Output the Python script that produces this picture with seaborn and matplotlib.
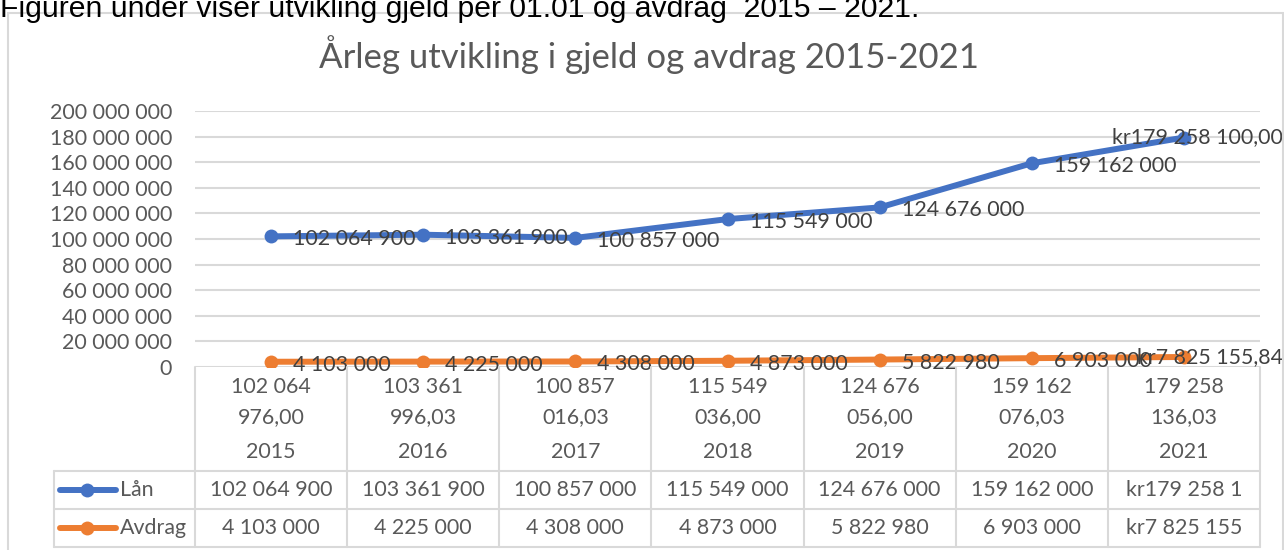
import matplotlib
matplotlib.use("Agg")
import matplotlib.pyplot as plt
import matplotlib.transforms as mtransforms
from matplotlib.patches import Rectangle
from matplotlib.lines import Line2D
import seaborn as sns
import pandas as pd

# ---------------- data ----------------
years = ["2015", "2016", "2017", "2018", "2019", "2020", "2021"]
cat_line1 = ["102 064", "103 361", "100 857", "115 549", "124 676", "159 162", "179 258"]
cat_line2 = ["976,00", "996,03", "016,03", "036,00", "056,00", "076,03", "136,03"]
laan = [102064900, 103361900, 100857000, 115549000, 124676000, 159162000, 179258100]
avdrag = [4103000, 4225000, 4308000, 4873000, 5822980, 6903000, 7825155.84]
laan_labels = ["102 064 900", "103 361 900", "100 857 000", "115 549 000",
               "124 676 000", "159 162 000", "kr179 258 100,00"]
avdrag_labels = ["4 103 000", "4 225 000", "4 308 000", "4 873 000",
                 "5 822 980", "6 903 000", "kr7 825 155,84"]
laan_table = ["102 064 900", "103 361 900", "100 857 000", "115 549 000",
              "124 676 000", "159 162 000", "kr179 258 1"]
avdrag_table = ["4 103 000", "4 225 000", "4 308 000", "4 873 000",
                "5 822 980", "6 903 000", "kr7 825 155"]
series_names = ["Lån", "Avdrag"]
colors = {"Lån": "#4472C4", "Avdrag": "#ED7D31"}
title = "Årleg utvikling i gjeld og avdrag 2015-2021"
intro = "Figuren under viser utvikling gjeld per 01.01 og avdrag  2015 – 2021."

# ---------------- setup ----------------
sns.set_theme(style="white")
plt.rcParams["font.family"] = ["Lato", "DejaVu Sans"]

W, H = 1284, 550
fig = plt.figure(figsize=(W / 100, H / 100), dpi=100)

def fx(x):
    return x / W

def fy(y):
    return 1 - y / H

FS = 15.4
GRAY = "#595959"
DARK = "#404040"
GRID = "#d9d9d9"

# outer chart frame
fig.patches.append(Rectangle((fx(8), fy(560)), fx(1283) - fx(8), fy(12.5) - fy(560),
                             transform=fig.transFigure, fill=False,
                             edgecolor=GRID, lw=1.5))

fig.text(0, fy(17), intro, family=["Liberation Sans", "DejaVu Sans"],
         fontsize=21.7, color="black", ha="left", va="baseline")
fig.text(fx(649), fy(55), title, fontsize=25, color=GRAY, ha="center", va="center")

ax = fig.add_axes([fx(195), fy(367), fx(1260) - fx(195), fy(111) - fy(367)])

df = pd.DataFrame({
    "pos": list(range(len(years))) * 2,
    "value": laan + avdrag,
    "serie": [series_names[0]] * len(years) + [series_names[1]] * len(years),
})
sns.lineplot(data=df, x="pos", y="value", hue="serie", palette=colors,
             marker="o", markersize=10, markeredgewidth=0, lw=4.3,
             legend=False, ax=ax, zorder=3)

ax.set_xlim(-0.5, len(years) - 0.5)
ax.set_ylim(0, 200_000_000)
ax.set_yticks(range(0, 200_000_001, 20_000_000))
ax.yaxis.set_major_formatter(
    matplotlib.ticker.FuncFormatter(lambda v, p: f"{int(v):,}".replace(",", " ")))
ax.set_xticks([])
ax.set_xlabel("")
ax.set_ylabel("")
ax.tick_params(axis="y", length=0, pad=16.5, labelsize=FS, labelcolor=GRAY)
ax.grid(axis="y", color=GRID, lw=1.5)
for s in ax.spines.values():
    s.set_visible(False)

# data labels
for series, labels in ((laan, laan_labels), (avdrag, avdrag_labels)):
    n = len(series)
    for i, (v, lab) in enumerate(zip(series, labels)):
        if i < n - 1:
            ax.annotate(lab, (i, v), xytext=(22 * 0.72, -3 * 0.72),
                        textcoords="offset points", ha="left", va="center",
                        fontsize=FS, color=DARK, zorder=4)
        else:
            ax.annotate(lab, (i, v), xytext=(fx(1283), v),
                        textcoords=("figure fraction", "data"), ha="right",
                        va="center", fontsize=FS, color=DARK, zorder=4,
                        annotation_clip=False)

# ---------------- data table ----------------
bt = mtransforms.blended_transform_factory(ax.transData, fig.transFigure)
x_right = fig.transFigure.inverted().transform(ax.transData.transform((len(years) - 0.5, 0)))[0]
lw_t = 1.5
for k in range(len(years) + 1):
    fig.add_artist(Line2D([k - 0.5, k - 0.5], [fy(367), fy(547)], transform=bt,
                          color=GRID, lw=lw_t))
for yy in (471, 509, 547):
    fig.add_artist(Line2D([fx(54), x_right], [fy(yy), fy(yy)], transform=fig.transFigure,
                          color=GRID, lw=lw_t))
fig.add_artist(Line2D([fx(54), fx(54)], [fy(471), fy(547)], transform=fig.transFigure,
                      color=GRID, lw=lw_t))

for i in range(len(years)):
    fig.text(i, fy(387), cat_line1[i], transform=bt, ha="center", va="center",
             fontsize=FS, color=GRAY)
    fig.text(i, fy(417), cat_line2[i], transform=bt, ha="center", va="center",
             fontsize=FS, color=GRAY)
    fig.text(i, fy(452), years[i], transform=bt, ha="center", va="center",
             fontsize=FS, color=GRAY)
    fig.text(i, fy(490), laan_table[i], transform=bt, ha="center", va="center",
             fontsize=FS, color=GRAY)
    fig.text(i, fy(528), avdrag_table[i], transform=bt, ha="center", va="center",
             fontsize=FS, color=GRAY)

# legend keys in table
for name, yy in zip(series_names, (490, 528)):
    fig.add_artist(Line2D([fx(60), fx(116)], [fy(yy), fy(yy)], transform=fig.transFigure,
                          color=colors[name], lw=4.3))
    fig.add_artist(Line2D([fx(87)], [fy(yy)], transform=fig.transFigure,
                          color=colors[name], marker="o", markersize=10,
                          markeredgewidth=0, lw=0))
    fig.text(fx(120), fy(yy), name, ha="left", va="center", fontsize=FS, color=GRAY)

fig.savefig("out.png", dpi=100)
